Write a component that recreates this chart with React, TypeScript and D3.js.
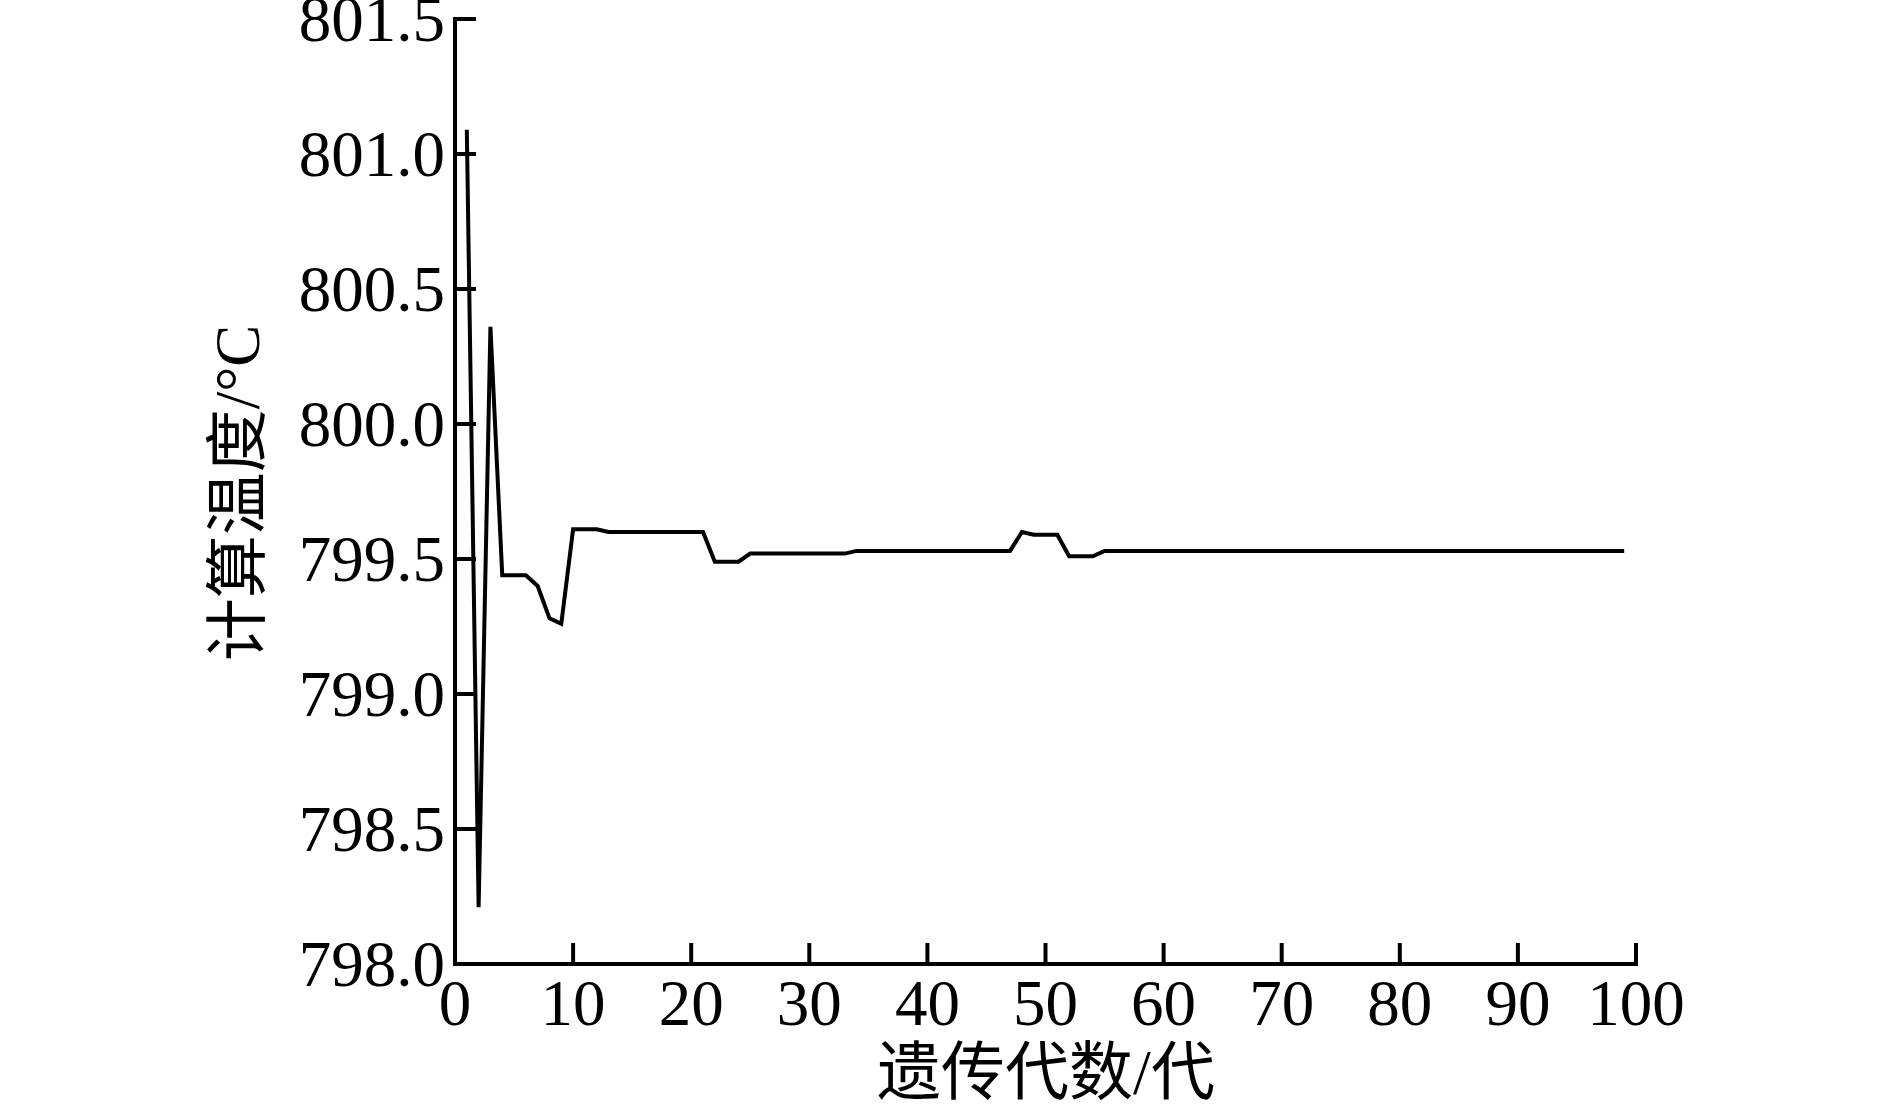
import React from 'react';
import * as d3 from 'd3';

// generation numbers (x) and computed temperature (y)
const generations = [
  1, 2, 3, 4, 5, 6, 7, 8, 9, 10,
  11, 12, 13, 14, 15, 16, 17, 18, 19, 20,
  21, 22, 23, 24, 25, 26, 27, 28, 29, 30,
  31, 32, 33, 34, 35, 36, 37, 38, 39, 40,
  41, 42, 43, 44, 45, 46, 47, 48, 49, 50,
  51, 52, 53, 54, 55, 56, 57, 58, 59, 60,
  61, 62, 63, 64, 65, 66, 67, 68, 69, 70,
  71, 72, 73, 74, 75, 76, 77, 78, 79, 80,
  81, 82, 83, 84, 85, 86, 87, 88, 89, 90,
  91, 92, 93, 94, 95, 96, 97, 98, 99,
];

const temperatures = [
  801.09, 798.21, 800.36, 799.44, 799.44, 799.44, 799.40, 799.28, 799.26, 799.61,
  799.61, 799.61, 799.60, 799.60, 799.60, 799.60, 799.60, 799.60, 799.60, 799.60,
  799.60, 799.49, 799.49, 799.49, 799.52, 799.52, 799.52, 799.52, 799.52, 799.52,
  799.52, 799.52, 799.52, 799.53, 799.53, 799.53, 799.53, 799.53, 799.53, 799.53,
  799.53, 799.53, 799.53, 799.53, 799.53, 799.53, 799.53, 799.60, 799.59, 799.59,
  799.59, 799.51, 799.51, 799.51, 799.53, 799.53, 799.53, 799.53, 799.53, 799.53,
  799.53, 799.53, 799.53, 799.53, 799.53, 799.53, 799.53, 799.53, 799.53, 799.53,
  799.53, 799.53, 799.53, 799.53, 799.53, 799.53, 799.53, 799.53, 799.53, 799.53,
  799.53, 799.53, 799.53, 799.53, 799.53, 799.53, 799.53, 799.53, 799.53, 799.53,
  799.53, 799.53, 799.53, 799.53, 799.53, 799.53, 799.53, 799.53, 799.53,
];

const xTicks = [0, 10, 20, 30, 40, 50, 60, 70, 80, 90, 100];
const yTicks = [798.0, 798.5, 799.0, 799.5, 800.0, 800.5, 801.0, 801.5];

const xTitle = '遗传代数/代';
const yTitle = '计算温度/°C';

const FONT = "'Liberation Serif', 'Times New Roman', 'Noto Sans CJK SC', serif";

export default function App() {
  const width = 1889;
  const height = 1111;

  const x = d3.scaleLinear().domain([0, 100]).range([455, 1636]);
  const y = d3.scaleLinear().domain([798, 801.5]).range([964, 19]);

  const points: [number, number][] = generations.map((g, i) => [g, temperatures[i]]);
  const line = d3.line<[number, number]>()
    .x(d => x(d[0]))
    .y(d => y(d[1]));

  const tickLen = 21;
  const axisW = 4;
  const fmt = d3.format('.1f');

  return (
    <svg
      width={width}
      height={height}
      style={{ position: 'absolute', left: 0, top: 0, background: '#fff' }}
      fontFamily={FONT}
    >
      <rect width={width} height={height} fill="#fff" />

      {/* data line */}
      <path d={line(points) || ''} fill="none" stroke="#000" strokeWidth={4} strokeLinejoin="miter" />

      {/* y axis */}
      <line x1={x(0)} x2={x(0)} y1={y(801.5) - axisW / 2} y2={y(798)} stroke="#000" strokeWidth={axisW} />
      {yTicks.map(t => (
        <g key={'y' + t}>
          <line x1={x(0)} x2={x(0) + tickLen} y1={y(t)} y2={y(t)} stroke="#000" strokeWidth={axisW} />
          <text x={x(0) - 10} y={y(t)} dy="0.34em" textAnchor="end" fontSize={65} fill="#000">
            {fmt(t)}
          </text>
        </g>
      ))}

      {/* x axis */}
      <line x1={x(0) - axisW / 2} x2={x(100) + axisW / 2} y1={y(798)} y2={y(798)} stroke="#000" strokeWidth={axisW} />
      {xTicks.map(t => (
        <g key={'x' + t}>
          <line x1={x(t)} x2={x(t)} y1={y(798)} y2={y(798) - tickLen} stroke="#000" strokeWidth={axisW} />
          <text x={x(t)} y={1025} textAnchor="middle" fontSize={65} fill="#000">
            {t}
          </text>
        </g>
      ))}

      {/* axis titles */}
      <text x={1046} y={1094} textAnchor="middle" fontSize={64} fill="#000">
        {xTitle}
      </text>
      <text
        transform={`translate(238, 493) rotate(-90)`}
        textAnchor="middle"
        dominantBaseline="central"
        fontSize={63}
        fill="#000"
      >
        {yTitle}
      </text>
    </svg>
  );
}
